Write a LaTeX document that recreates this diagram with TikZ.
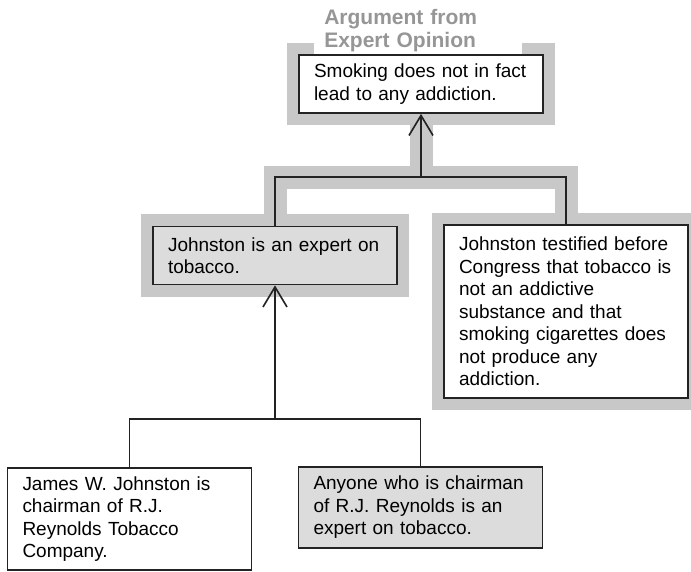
\documentclass[tikz,border=0pt]{standalone}
\usepackage{fontspec}
\setmainfont{Liberation Sans}
\usetikzlibrary{arrows.meta,backgrounds}
\definecolor{bandgray}{RGB}{200,200,200}
\definecolor{boxgray}{RGB}{220,220,220}
\definecolor{titlegray}{RGB}{150,150,150}
\definecolor{boxline}{RGB}{35,35,35}
\tikzstyle{premise} = [rectangle, draw=boxline, line width=1.8pt, fill=white, text width=214pt, inner xsep=15pt, inner ysep=6pt, align=left, font=\fontsize{19}{22.5}\selectfont]
\tikzstyle{shaded} = [premise, fill=boxgray]
\tikzstyle{link} = [draw=boxline, line width=1.6pt]
\tikzstyle{arrow} = [link, -{Straight Barb[length=20pt, width=24pt]}]
\tikzstyle{band} = [draw=bandgray, line width=23pt]
\tikzstyle{scheme} = [fill=white, text=titlegray, text width=188pt, align=left, inner xsep=10pt, inner ysep=2pt, font=\fontsize{21}{23}\selectfont\bfseries]

\begin{document}
\begin{tikzpicture}[x=1pt, y=-1pt]
    \useasboundingbox (0,0) rectangle (691,571);

    % Argument from expert opinion
    \node (concl) [premise, minimum height=58pt] at (421,84) {Smoking does not in fact\\lead to any addiction.};
    \node (expert) [shaded, minimum height=58pt] at (275,255.5) {Johnston is an expert on\\tobacco.};
    \node (testified) [premise, minimum height=173pt] at (566,311.5) {Johnston testified before\\Congress that tobacco is\\not an addictive\\substance and that\\smoking cigarettes does\\not produce any\\addiction.};

    % Sub-argument for the expert premise
    \node (chairman) [premise, minimum height=102pt] at (129.5,519) {James W. Johnston is\\chairman of R.J.\\Reynolds Tobacco\\Company.};
    \node (anyone) [shaded, minimum height=81pt] at (420.5,507.5) {Anyone who is chairman\\of R.J. Reynolds is an\\expert on tobacco.};

    \coordinate (topJoin) at (421,177);
    \coordinate (lowJoin) at (275,419);

    % Connectors
    \draw [arrow] (topJoin) -- (concl.south);
    \draw [link] (expert.north) |- (topJoin) -| (testified.north);
    \draw [arrow] (lowJoin) -- (expert.south);
    \draw [link] (chairman.north) |- (lowJoin) -| (anyone.north);

    % Gray outline of the scheme
    \begin{pgfonlayer}{background}
        \draw [band] (concl.south) -- (topJoin);
        \draw [band] (expert.north) |- (topJoin) -| (testified.north);
        \draw [band] (concl.south west) rectangle (concl.north east);
        \draw [band] (expert.south west) rectangle (expert.north east);
        \draw [band] (testified.south west) rectangle (testified.north east);
        \node (title) [scheme, anchor=south west, xshift=16pt] at (concl.north west) {Argument from\\Expert Opinion};
    \end{pgfonlayer}

\end{tikzpicture}
\end{document}
